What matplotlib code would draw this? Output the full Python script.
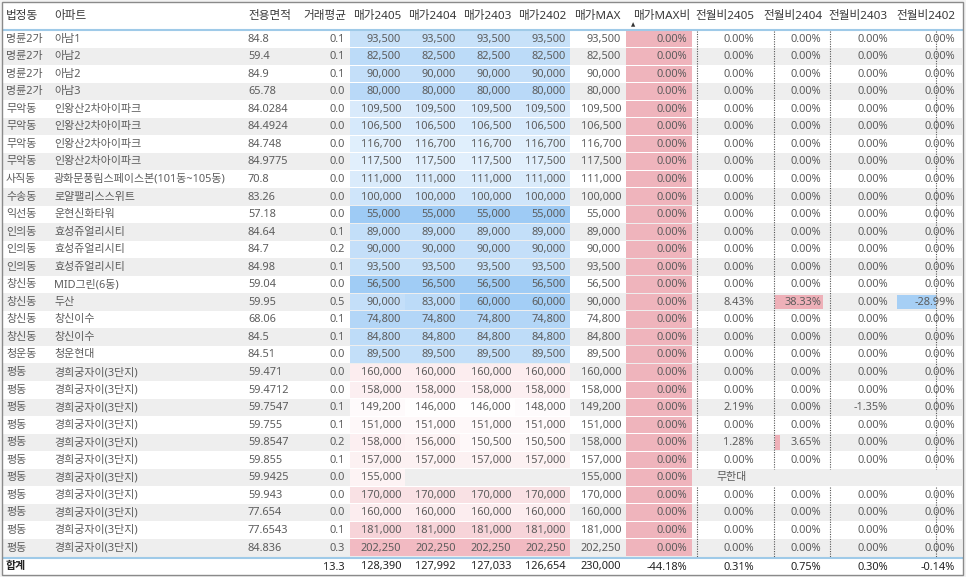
import matplotlib
matplotlib.use('Agg')
import matplotlib.pyplot as plt
from matplotlib.patches import Rectangle
import numpy as np

plt.rcParams['font.family'] = ['Noto Sans', 'Noto Sans CJK KR', 'DejaVu Sans']

# ---------------- data ----------------
headers = ['법정동', '아파트', '전용면적', '거래평균', '매가2405', '매가2404', '매가2403', '매가2402',
           '매가MAX', '매가MAX비', '전월비2405', '전월비2404', '전월비2403', '전월비2402']

dong = ['명륜2가', '명륜2가', '명륜2가', '명륜2가', '무악동', '무악동', '무악동', '무악동', '사직동', '수송동',
        '익선동', '인의동', '인의동', '인의동', '창신동', '창신동', '창신동', '창신동', '청운동',
        '평동', '평동', '평동', '평동', '평동', '평동', '평동', '평동', '평동', '평동', '평동']
apt = ['아남1', '아남2', '아남2', '아남3', '인왕산2차아이파크', '인왕산2차아이파크', '인왕산2차아이파크',
       '인왕산2차아이파크', '광화문풍림스페이스본(101동~105동)', '로얄팰리스스위트', '운현신화타워',
       '효성쥬얼리시티', '효성쥬얼리시티', '효성쥬얼리시티', 'MID그린(6동)', '두산', '창신이수', '창신이수',
       '청운현대'] + ['경희궁자이(3단지)'] * 11
area = ['84.8', '59.4', '84.9', '65.78', '84.0284', '84.4924', '84.748', '84.9775', '70.8', '83.26',
        '57.18', '84.64', '84.7', '84.98', '59.04', '59.95', '68.06', '84.5', '84.51', '59.471',
        '59.4712', '59.7547', '59.755', '59.8547', '59.855', '59.9425', '59.943', '77.654', '77.6543', '84.836']
deal_avg = [0.1, 0.1, 0.1, 0.0, 0.0, 0.0, 0.0, 0.0, 0.0, 0.0, 0.0, 0.1, 0.2, 0.1, 0.0, 0.5, 0.1, 0.1, 0.0,
            0.0, 0.0, 0.1, 0.1, 0.2, 0.1, 0.0, 0.0, 0.0, 0.1, 0.3]
p2405 = [93500, 82500, 90000, 80000, 109500, 106500, 116700, 117500, 111000, 100000, 55000, 89000, 90000,
         93500, 56500, 90000, 74800, 84800, 89500, 160000, 158000, 149200, 151000, 158000, 157000, 155000,
         170000, 160000, 181000, 202250]
p2404 = [93500, 82500, 90000, 80000, 109500, 106500, 116700, 117500, 111000, 100000, 55000, 89000, 90000,
         93500, 56500, 83000, 74800, 84800, 89500, 160000, 158000, 146000, 151000, 156000, 157000, None,
         170000, 160000, 181000, 202250]
p2403 = [93500, 82500, 90000, 80000, 109500, 106500, 116700, 117500, 111000, 100000, 55000, 89000, 90000,
         93500, 56500, 60000, 74800, 84800, 89500, 160000, 158000, 146000, 151000, 150500, 157000, None,
         170000, 160000, 181000, 202250]
p2402 = [93500, 82500, 90000, 80000, 109500, 106500, 116700, 117500, 111000, 100000, 55000, 89000, 90000,
         93500, 56500, 60000, 74800, 84800, 89500, 160000, 158000, 148000, 151000, 150500, 157000, None,
         170000, 160000, 181000, 202250]
pmax = [93500, 82500, 90000, 80000, 109500, 106500, 116700, 117500, 111000, 100000, 55000, 89000, 90000,
        93500, 56500, 90000, 74800, 84800, 89500, 160000, 158000, 149200, 151000, 158000, 157000, 155000,
        170000, 160000, 181000, 202250]
max_ratio = [0.0] * 30
mom2405 = [0.0] * 15 + [8.43] + [0.0] * 5 + [2.19, 0.0, 1.28, 0.0, float('inf'), 0.0, 0.0, 0.0, 0.0]
mom2404 = [0.0] * 15 + [38.33] + [0.0] * 7 + [3.65, 0.0, None, 0.0, 0.0, 0.0, 0.0]
mom2403 = [0.0] * 21 + [-1.35, 0.0, 0.0, 0.0, None, 0.0, 0.0, 0.0, 0.0]
mom2402 = [0.0] * 15 + [-28.99] + [0.0] * 9 + [None, 0.0, 0.0, 0.0, 0.0]

total_label = '합계'
totals = {'거래평균': 13.3, '매가2405': 128390, '매가2404': 127992, '매가2403': 127033, '매가2402': 126654,
          '매가MAX': 230000, '매가MAX비': -44.18, '전월비2405': 0.31, '전월비2404': 0.75,
          '전월비2403': 0.30, '전월비2402': -0.14}

# ---------------- layout / style ----------------
W, H = 966, 577
ROW_TOP0 = 30.0
ROW_H = 17.55
FS = 7.9
FS_H = 8.4
TXT = '#5c5c5c'
HDR = '#3a3a3a'
GRAY_ROW = '#eeeeee'
PINK_COL = '#efb4bc'
BAR_POS = '#eeb0b8'
BAR_NEG = '#a6cff5'
LINE_BLUE = '#9fcae8'

price_cols = [p2405, p2404, p2403, p2402]
price_right = [401, 456, 511, 566]
price_cell = [(350, 405), (405, 460), (460, 515), (515, 570)]
mom_cols = [mom2405, mom2404, mom2403, mom2402]
mom_right = [754, 821, 888, 955]
mom_axis = [697, 773.5, 830, 936]
mom_span = [0, 48, 0, 39]   # px available for largest bar

BLUE_END = np.array([158, 203, 245]) / 255
PINK_END = np.array([242, 186, 194]) / 255
WHITE = np.array([1.0, 1.0, 1.0])
allp = [v for c in price_cols for v in c if v is not None]
pmin, pmaxv = min(allp), max(allp)
pmid = 145000


def div_color(v):
    if v <= pmid:
        t = (pmid - v) / (pmid - pmin)
        return WHITE + (BLUE_END - WHITE) * t
    t = (v - pmid) / (pmaxv - pmid)
    return WHITE + (PINK_END - WHITE) * t


fig = plt.figure(figsize=(W / 100, H / 100), dpi=100)
fig.patch.set_facecolor('#f2f2f2')
ax = fig.add_axes([0, 0, 1, 1])
ax.set_xlim(0, W)
ax.set_ylim(H, 0)
ax.axis('off')

ax.add_patch(Rectangle((2, 1.5), 961, 573.5, facecolor='white', edgecolor='none', zorder=0))

# header
hdr_y = 16
hdr_pos = [(6, 'left'), (54, 'left'), (248, 'left'), (346, 'right'), (401, 'right'), (456, 'right'),
           (511, 'right'), (566, 'right'), (621, 'right'), (690, 'right'), (754, 'right'), (823, 'right'),
           (888, 'right'), (955, 'right')]
for h, (x, ha) in zip(headers, hdr_pos):
    ax.text(x, hdr_y, h, ha=ha, va='center', fontsize=FS_H, color=HDR)
ax.text(633, 24.5, '▲', ha='center', va='center', fontsize=4, color='#333333',
        family=['DejaVu Sans'])
ax.plot([3, 962], [ROW_TOP0, ROW_TOP0], color=LINE_BLUE, lw=1.5, zorder=5)

n = len(dong)
for i in range(n):
    top = ROW_TOP0 + i * ROW_H
    yc = top + ROW_H / 2 + 0.3
    if i % 2 == 1:
        ax.add_patch(Rectangle((3, top), 959, ROW_H, facecolor=GRAY_ROW, edgecolor='none', zorder=0.5))
    ax.text(6, yc, dong[i], ha='left', va='center', fontsize=FS, color=TXT)
    ax.text(54, yc, apt[i], ha='left', va='center', fontsize=FS, color=TXT)
    ax.text(248, yc, area[i], ha='left', va='center', fontsize=FS, color=TXT)
    ax.text(345, yc, f'{deal_avg[i]:.1f}', ha='right', va='center', fontsize=FS, color=TXT)
    for col, xr, (cl, cr) in zip(price_cols, price_right, price_cell):
        v = col[i]
        if v is None:
            continue
        ax.add_patch(Rectangle((cl, top + 0.5), cr - cl, ROW_H - 1, facecolor=div_color(v),
                               edgecolor='none', zorder=1))
        ax.text(xr, yc, f'{v:,}', ha='right', va='center', fontsize=FS, color=TXT, zorder=3)
    ax.text(621, yc, f'{pmax[i]:,}', ha='right', va='center', fontsize=FS, color=TXT)
    ax.add_patch(Rectangle((626, top + 0.5), 66, ROW_H - 1, facecolor=PINK_COL, edgecolor='none', zorder=1))
    ax.text(687, yc, f'{max_ratio[i]:.2f}%', ha='right', va='center', fontsize=FS, color=TXT, zorder=3)
    for col, xr, axx, span in zip(mom_cols, mom_right, mom_axis, mom_span):
        v = col[i]
        if v is None:
            continue
        if np.isinf(v):
            ax.text(716, yc, '무한대', ha='left', va='center', fontsize=FS, color=TXT)
            continue
        finite = [abs(x) for x in col if x is not None and not np.isinf(x)]
        scale = span / max(finite) if span else 0
        if v != 0 and scale:
            w = v * scale
            ax.add_patch(Rectangle((axx + (1.5 if w > 0 else 0), top + 1.5), w, ROW_H - 3,
                                   facecolor=BAR_POS if v > 0 else BAR_NEG, edgecolor='none', zorder=1))
        ax.text(xr, yc, f'{v:.2f}%', ha='right', va='center', fontsize=FS, color=TXT, zorder=3)

# dotted data-bar axes, broken where a row has no value
for col, axx in zip(mom_cols, mom_axis):
    seg_start = None
    for i in range(n + 1):
        ok = i < n and col[i] is not None and not np.isinf(col[i])
        if ok and seg_start is None:
            seg_start = i
        if not ok and seg_start is not None:
            ax.plot([axx, axx], [ROW_TOP0 + seg_start * ROW_H + 1, ROW_TOP0 + i * ROW_H],
                    color='#555555', lw=0.8, ls=(0, (1, 1.2)), zorder=2)
            seg_start = None

# total row
tot_line = ROW_TOP0 + n * ROW_H + 1.5
ax.plot([3, 962], [tot_line, tot_line], color=LINE_BLUE, lw=1.5, zorder=5)
ty = 567
ax.text(6, ty, total_label, ha='left', va='center', fontsize=FS, color='#222222', fontweight='bold')
tot_fmt = [('거래평균', 345, lambda v: f'{v:.1f}')] + \
          [(k, x, lambda v: f'{v:,}') for k, x in zip(['매가2405', '매가2404', '매가2403', '매가2402'], price_right)] + \
          [('매가MAX', 621, lambda v: f'{v:,}'), ('매가MAX비', 687, lambda v: f'{v:.2f}%')] + \
          [(k, x, lambda v: f'{v:.2f}%') for k, x in zip(['전월비2405', '전월비2404', '전월비2403', '전월비2402'], mom_right)]
for k, x, f in tot_fmt:
    ax.text(x, ty, f(totals[k]), ha='right', va='center', fontsize=FS, color='#222222', fontweight='bold')

# outer frame
ax.add_patch(Rectangle((2, 1.5), 961, 573.5, fill=False, edgecolor='#8a8a8a', lw=1.0, zorder=6))

fig.savefig('out.png', dpi=100, facecolor=fig.get_facecolor())
